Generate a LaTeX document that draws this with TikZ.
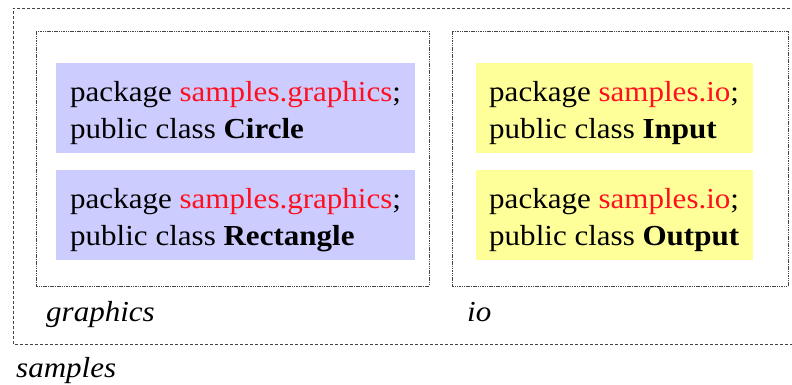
\documentclass[tikz,border=0pt]{standalone}
\usepackage{fontspec}
\setmainfont{Liberation Serif}[FakeStretch=1.07]
\definecolor{boxblue}{HTML}{CCCCFF}
\definecolor{boxyellow}{HTML}{FFFF99}
\definecolor{pkgred}{HTML}{FF1020}
\definecolor{dashgray}{HTML}{444444}
\tikzset{
  outerpkg/.style={draw=dashgray, line width=1pt, dash pattern=on 3pt off 2pt},
  innerpkg/.style={draw=dashgray, line width=1pt, dash pattern=on 1.5pt off 0.8pt},
  classbox/.style={rectangle, inner sep=0pt, outer sep=0pt, draw=none},
  txt/.style={anchor=base west, inner sep=0pt, font=\fontsize{29}{37}\selectfont},
  lbl/.style={anchor=base west, inner sep=0pt, font=\fontsize{29}{37}\selectfont\itshape},
}
\newcommand{\pk}[1]{\textcolor{pkgred}{#1}}
\begin{document}
\begin{tikzpicture}[x=1pt,y=-1pt]
\useasboundingbox (0,0) rectangle (792,384);
% outer package (right edge beyond picture)
\draw[outerpkg] (800,8) -- (13,8) -- (13,344) -- (800,344);
% inner packages
\draw[innerpkg] (36,31) rectangle (429,286);
\draw[innerpkg] (452,31) rectangle (788,286);
% class boxes
\node[classbox, fill=boxblue, minimum width=359pt, minimum height=90pt] (circle) at (235.5,108) {};
\node[classbox, fill=boxblue, minimum width=359pt, minimum height=90pt] (rect) at (235.5,215) {};
\node[classbox, fill=boxyellow, minimum width=277pt, minimum height=90pt] (input) at (614.5,108) {};
\node[classbox, fill=boxyellow, minimum width=277pt, minimum height=90pt] (output) at (614.5,215) {};
% texts
\node[txt] (c1) at (70,101) {package \pk{samples.graphics};};
\node[txt] (c2) at (70,138) {public class \textbf{Circle}};
\node[txt] (r1) at (70,208) {package \pk{samples.graphics};};
\node[txt] (r2) at (70,245) {public class \textbf{Rectangle}};
\node[txt] (i1) at (489,101) {package \pk{samples.io};};
\node[txt] (i2) at (489,138) {public class \textbf{Input}};
\node[txt] (o1) at (489,208) {package \pk{samples.io};};
\node[txt] (o2) at (489,245) {public class \textbf{Output}};
% labels
\node[lbl] (lg) at (46,321) {graphics};
\node[lbl] (lio) at (467,321) {io};
\node[lbl] (ls) at (16,377) {samples};
\end{tikzpicture}
\end{document}
